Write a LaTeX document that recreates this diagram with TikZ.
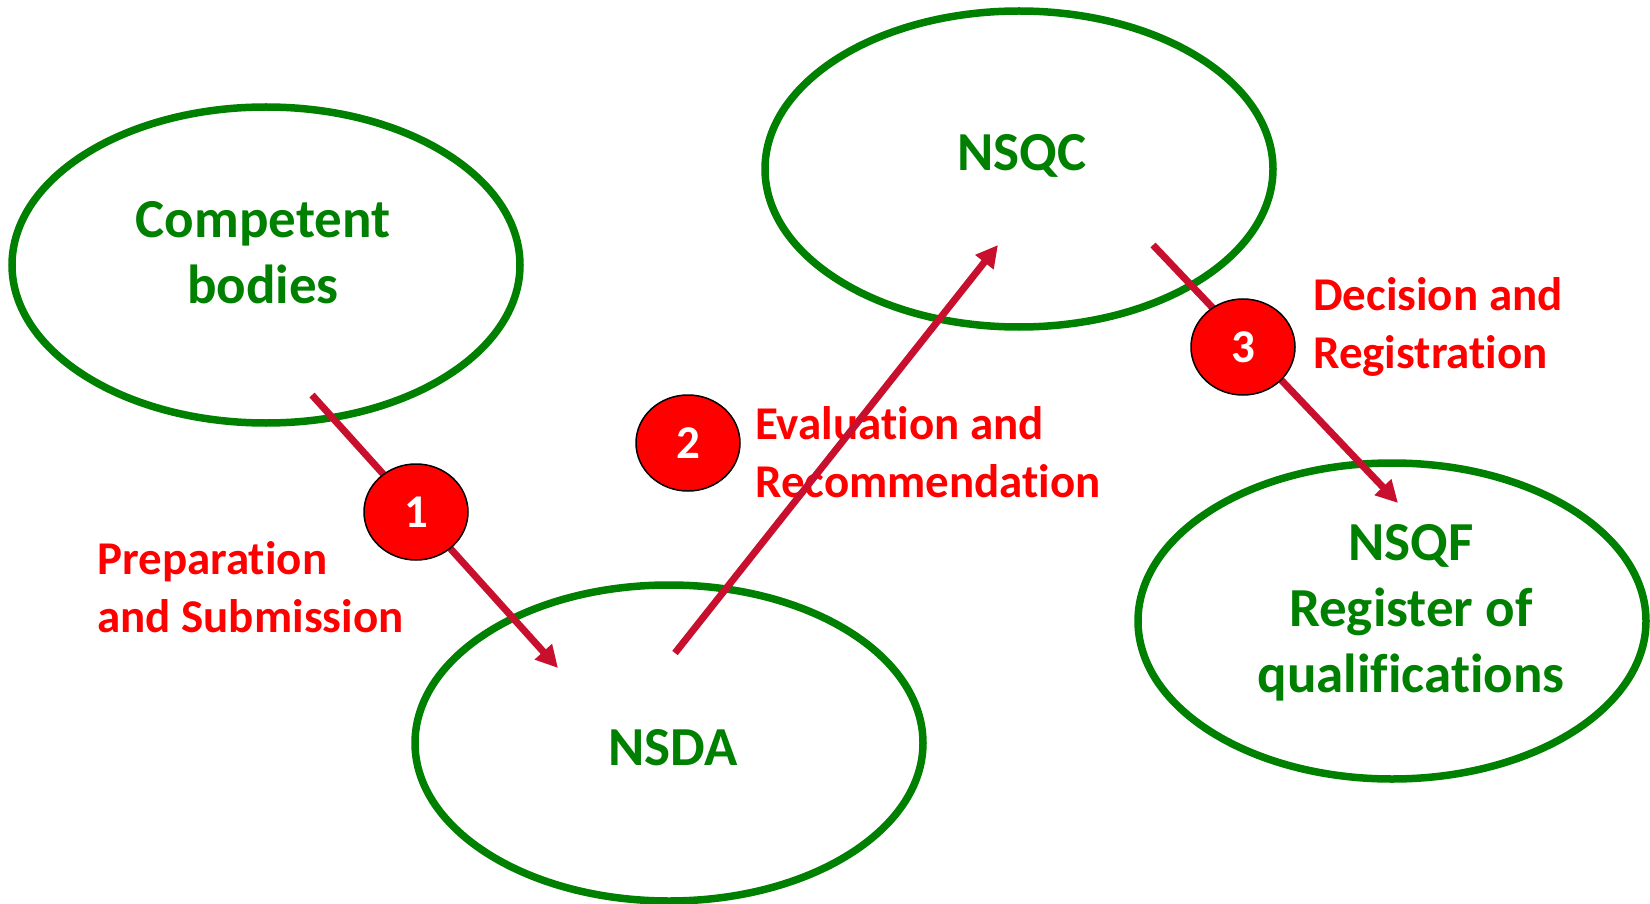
\documentclass[tikz,border=0pt]{standalone}
\usepackage{fontspec}
\setmainfont{Carlito}[RawFeature={-liga;-clig;-dlig}]
\usetikzlibrary{arrows.meta,shapes.geometric}
\definecolor{dkgreen}{RGB}{0,128,0}
\definecolor{arrowred}{RGB}{200,16,46}
\begin{document}
\begin{tikzpicture}[x=1pt,y=-1pt,
  oval/.style={draw=dkgreen,line width=7.5pt,ellipse,minimum width=508pt,minimum height=316pt,inner sep=0pt},
  gtext/.style={text=dkgreen,font=\bfseries\fontsize{55}{66}\selectfont,align=center,inner sep=0pt},
  rtext/.style={text=red,font=\bfseries\fontsize{47}{58}\selectfont,align=left,anchor=west,inner sep=0pt},
  badge/.style={draw=black,line width=1.5pt,fill=red,ellipse,minimum width=104pt,minimum height=96pt,inner sep=0pt,text=white,font=\bfseries\fontsize{47}{52}\selectfont},
  flow/.style={draw=arrowred,line width=7pt,-{Triangle[length=22pt,width=22pt]}}]
\useasboundingbox (0,0) rectangle (1650,904);
\node[oval] (cb) at (266,265) {};
\node[oval] (nsqc) at (1019,169) {};
\node[oval] (nsda) at (669,743) {};
\node[oval] (nsqf) at (1392,621) {};
\node[gtext] (tcb) at (263,253) {Competent\\bodies};
\node[gtext] (tnsqc) at (1022,156) {NSQC};
\node[gtext] (tnsda) at (673,748) {NSDA};
\node[gtext] (tnsqf) at (1411,613) {NSQF\\Register of\\qualifications};
\node[rtext] (l1) at (97,587) {Preparation\\and Submission};
\node[rtext] (l2) at (755,452) {Evaluation and\\Recommendation};
\node[rtext] (l3) at (1313,327) {Decision and\\Registration};
\coordinate (a1s) at (312,395);
\coordinate (a1e) at (558,668);
\coordinate (a2s) at (675,653);
\coordinate (a2e) at (998,245);
\coordinate (a3s) at (1153,245);
\coordinate (a3e) at (1398,503);
\draw[flow] (a1s) -- (a1e);
\draw[flow] (a2s) -- (a2e);
\draw[flow] (a3s) -- (a3e);
\node[badge] (b1) at (416,512) {1};
\node[badge] (b2) at (688,443) {2};
\node[badge] (b3) at (1243,347) {3};
\end{tikzpicture}
\end{document}
